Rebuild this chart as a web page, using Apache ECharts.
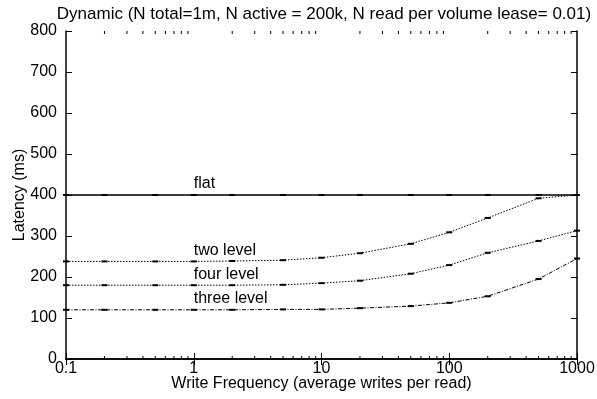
<!DOCTYPE html>
<html>
<head>
<meta charset="utf-8">
<script src="https://cdn.jsdelivr.net/npm/echarts@6/dist/echarts.min.js"></script>
<style>
  html, body { margin: 0; padding: 0; background: #fff; }
  #chart { width: 597px; height: 399px; }
</style>
</head>
<body>
<div id="chart"></div>
<script>
// Write frequency (average writes per read), sampled on a log scale
const writeFreq = [0.1, 0.2, 0.5, 1, 2, 5, 10, 20, 50, 100, 200, 500, 1000];

// Latency (ms) for each lease scheme
const flat       = [400, 400, 400, 400, 400, 400, 400, 400, 400, 400, 400, 400, 400];
const twoLevel   = [238, 238, 238, 238, 239, 241, 247, 258, 281, 309, 344, 392, 400];
const fourLevel  = [180, 180, 180, 180, 180, 181, 185, 191, 208, 229, 259, 288, 313];
const threeLevel = [120, 120, 120, 120, 120, 121, 121, 124, 129, 137, 153, 195, 245];

const seriesNames = ['flat', 'two level', 'four level', 'three level'];

// Axis tick labels and the minor tick positions of the log axis
const xTickLabels = ['0.1', '1', '10', '100', '1000'];
const minorTicks = [];
[0.1, 1, 10, 100].forEach(d => { for (let k = 2; k <= 9; k++) minorTicks.push(+(d * k).toPrecision(3)); });

const FONT = '"Liberation Sans", Arial, Helvetica, sans-serif';
const LABEL_AT = 1; // series names are written at x = 1

function toData(values) {
  return writeFreq.map((x, i) => ({ value: [x, values[i]] }));
}

function makeSeries(name, values, dash, width) {
  const data = toData(values);
  const idx = writeFreq.indexOf(LABEL_AT);
  data[idx].label = {
    show: true,
    formatter: name,
    position: 'top',
    align: 'left',
    distance: 2,
    color: '#000',
    fontFamily: FONT,
    fontSize: 16
  };
  return {
    name: name,
    type: 'line',
    data: data,
    symbol: 'rect',
    symbolSize: [6, 2],
    showSymbol: true,
    itemStyle: { color: '#000' },
    lineStyle: { color: '#000', width: width, type: dash },
    label: { show: false },
    emphasis: { disabled: true },
    animation: false,
    z: 3
  };
}

const chart = echarts.init(document.getElementById('chart'), null, { renderer: 'canvas' });

const axisLine = { show: true, lineStyle: { color: '#000', width: 1.5 } };
const majorTick = { show: true, inside: true, length: 6, lineStyle: { color: '#000', width: 1 } };

chart.setOption({
  backgroundColor: '#fff',
  animation: false,
  title: {
    text: 'Dynamic (N total=1m, N active = 200k, N read per volume lease= 0.01)',
    left: 319,
    textAlign: 'center',
    top: 1,
    textStyle: { fontFamily: FONT, fontSize: 17, fontWeight: 'normal', color: '#000' }
  },
  grid: { left: 66, right: 20, top: 31, bottom: 40, containLabel: false, outerBoundsMode: 'none' },
  xAxis: [
    {
      type: 'log', logBase: 10, min: 0.1, max: 1000,
      position: 'bottom',
      name: 'Write Frequency (average writes per read)',
      nameLocation: 'middle', nameGap: 17, nameMoveOverlap: false,
      nameTextStyle: { fontFamily: FONT, fontSize: 16, color: '#000' },
      axisLine: axisLine,
      axisTick: majorTick,
      axisLabel: {
        fontFamily: FONT, fontSize: 16, color: '#000', margin: 2,
        formatter: (v, i) => xTickLabels[i]
      },
      splitLine: { show: false }
    },
    {
      type: 'log', logBase: 10, min: 0.1, max: 1000,
      position: 'top',
      axisLine: axisLine,
      axisTick: majorTick,
      axisLabel: { show: false },
      splitLine: { show: false }
    }
  ],
  yAxis: [
    {
      type: 'value', min: 0, max: 800, interval: 100,
      position: 'left',
      name: 'Latency (ms)',
      nameLocation: 'middle', nameGap: 38, nameRotate: 90, nameMoveOverlap: false,
      nameTextStyle: { fontFamily: FONT, fontSize: 16, color: '#000' },
      axisLine: axisLine,
      axisTick: majorTick,
      axisLabel: { fontFamily: FONT, fontSize: 16, color: '#000', margin: 9 },
      splitLine: { show: false }
    },
    {
      type: 'value', min: 0, max: 800, interval: 100,
      position: 'right',
      axisLine: axisLine,
      axisTick: majorTick,
      axisLabel: { show: false },
      splitLine: { show: false }
    }
  ],
  series: [
    makeSeries(seriesNames[0], flat, 'solid', 1.5),
    makeSeries(seriesNames[1], twoLevel, [1.5, 1.5], 1),
    makeSeries(seriesNames[2], fourLevel, [1.5, 1.5], 1),
    makeSeries(seriesNames[3], threeLevel, [4, 1.5, 1, 1.5], 1),
    {
      // minor ticks of the log axis, on the bottom and top frame edges
      type: 'custom',
      silent: true,
      animation: false,
      data: minorTicks.map(v => [v]),
      encode: { x: 0 },
      renderItem: (params, api) => {
        const v = api.value(0);
        const b = api.coord([v, 0]);
        const t = api.coord([v, 800]);
        const style = { stroke: '#000', lineWidth: 1 };
        return {
          type: 'group',
          children: [
            { type: 'line', shape: { x1: b[0], y1: b[1], x2: b[0], y2: b[1] - 3 }, style: style },
            { type: 'line', shape: { x1: t[0], y1: t[1], x2: t[0], y2: t[1] + 3 }, style: style }
          ]
        };
      },
      z: 4
    }
  ]
});
</script>
</body>
</html>
